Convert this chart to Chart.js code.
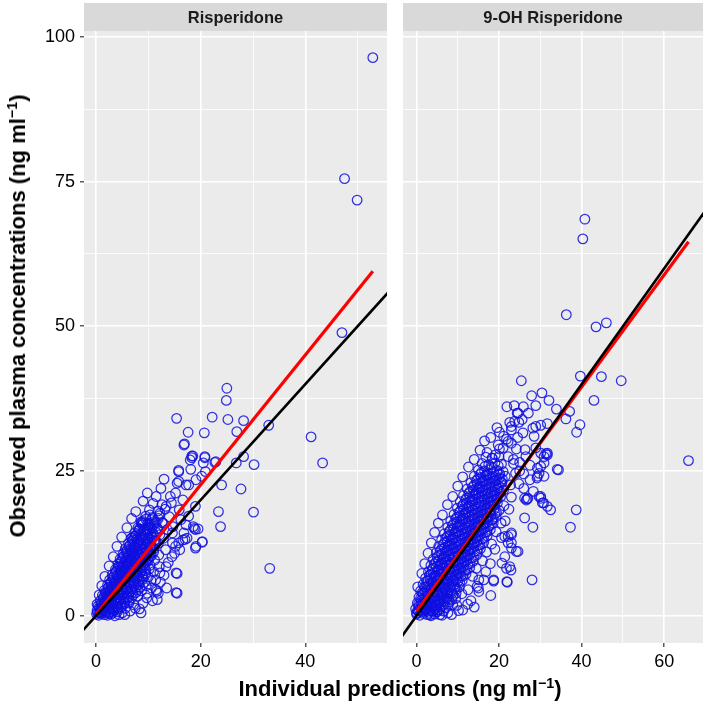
<!DOCTYPE html>
<html>
<head>
<meta charset="utf-8">
<script src="https://cdn.jsdelivr.net/npm/chart.js@4.4.1/dist/chart.umd.min.js"></script>
<style>
  body { margin: 0; background: #fff; width: 709px; height: 705px; position: relative; overflow: hidden;
         font-family: "Liberation Sans", Arial, sans-serif; }
  canvas { position: absolute; top: 0; }
  #ris-chart { left: 0; }
  #oh-chart { left: 397px; }
  .axis-title { position: absolute; font-weight: bold; font-size: 22px; line-height: 22px; color: #000; white-space: nowrap; }
  .axis-title sup { font-size: 65%; line-height: 0; vertical-align: 0; position: relative; top: -0.55em; }
  #x-title { left: 400px; top: 678px; transform: translateX(-50%); }
  #y-title { left: 18px; top: 316px; transform: translate(-50%, -50%) rotate(-90deg); }
</style>
</head>
<body>
<canvas id="ris-chart" width="393" height="705"></canvas>
<canvas id="oh-chart" width="312" height="705"></canvas>
<div id="x-title" class="axis-title">Individual predictions (ng ml<sup>−1</sup>)</div>
<div id="y-title" class="axis-title">Observed plasma concentrations (ng ml<sup>−1</sup>)</div>
<script>
// facet labels
const panelLabels = ["Risperidone", "9-OH Risperidone"];

// axis ticks (major ones get labels, minor ones only a thin grid line)
const yMajor = [0, 25, 50, 75, 100];
const yMinor = [12.5, 37.5, 62.5, 87.5];
const risXMajor = [0, 20, 40];
const risXMinor = [10, 30, 50];
const ohXMajor = [0, 20, 40, 60];
const ohXMinor = [10, 30, 50];

// axis limits as drawn (ggplot expansion included)
const yRange = [-4.7, 101.0];
const risXRange = [-2.3, 55.6];
const ohXRange = [-3.25, 69.4];

// y = x reference line, and the linear fits [pred, obs]
const identityLine = [[-10, -10], [120, 120]];
const risFit = [[0.05, 0.26], [52.9, 59.5]];
const ohFit = [[0.05, 0.8], [65.9, 64.6]];

// Risperidone: [individual prediction, observed]
const risOutliers = [
  [52.9,96.4],[47.5,75.5],[49.9,71.8],[47.0,48.9],[41.1,30.9],[43.3,26.4],[33.0,32.9],[33.2,8.2],
  [25.0,39.3],[24.9,37.2],[15.4,34.1],[22.2,34.3],[25.2,33.9],[28.2,33.7],[26.9,31.8],[20.7,31.6],
  [17.6,31.7],[16.8,29.5],[28.2,27.5],[26.8,26.4],[30.2,26.1],[24.0,22.6],[27.7,21.9],[23.4,18.0],
  [30.1,17.9],[23.8,15.4],[20.3,12.7],[19.0,11.7],[15.5,7.3],[15.5,3.9],[11.7,2.8],[11.6,4.2],
  [7.5,1.3],[19.5,15.0],[18.3,27.3],[18.0,26.9],[20.8,27.3],[22.9,26.6],[15.8,25.1],[18.1,25.3],
  [20.2,24.1],[15.5,22.9],[16.9,29.7],[18.5,27.6],[20.9,24.9],[17.2,22.6],[19.1,23.5],[11.5,20.6],
  [14.2,20.6],[16.6,20.0],[13.4,18.9],[15.9,18.3],[10.3,17.4],[12.2,17.7],[8.7,16.0],[7.2,13.7],
  [9.7,14.9],[12.8,16.0],[14.7,15.4],[17.2,15.7],[18.8,15.1],[20.3,12.8],[19.1,12.0],[16.6,13.1],
  [15.0,10.8],[13.4,8.5],[15.3,7.4],[12.2,7.4],[11.5,4.5],[11.9,3.9],[15.3,4.0],[9.7,3.1],
  [5.9,10.8],[4.7,8.5],[8.3,14.9],[6.8,13.4],[8.9,16.3],[15.8,24.9],[15.8,23.2],[17.7,22.6],
  [15.2,21.2],[18.3,27.6],[20.8,27.5],[22.7,26.5],[20.5,26.4],[19.0,18.9],[17.7,17.2],[18.6,15.4],
  [19.0,14.9],[16.8,14.3],[17.4,13.4],[15.8,12.6],[14.6,14.3]
];
const risCore = [
  [0.1,0.3],[0.5,0.1],[1.0,0.4],[1.6,0.2],[2.2,0.1],[2.9,0.3],[3.6,0.0],[4.4,0.2],
  [0.2,0.9],[0.7,0.7],[1.3,1.0],[1.9,0.8],[2.6,0.6],[3.3,0.9],[4.1,0.7],[5.0,0.5],
  [0.4,1.7],[1.0,1.5],[1.7,1.8],[2.4,1.6],[3.1,1.4],[3.9,1.7],[4.8,1.5],[5.6,1.3],
  [0.8,2.6],[1.5,2.4],[2.2,2.7],[2.9,2.5],[3.7,2.3],[4.5,2.6],[5.4,2.4],[6.3,2.2],
  [1.2,3.5],[1.9,3.3],[2.7,3.6],[3.4,3.4],[4.2,3.2],[5.0,3.5],[5.9,3.3],[6.8,3.1],[8.0,3.4],
  [1.6,4.4],[2.4,4.2],[3.2,4.5],[4.0,4.3],[4.8,4.1],[5.7,4.4],[6.6,4.2],[7.6,4.0],[8.7,4.3],
  [2.2,5.3],[3.0,5.1],[3.8,5.4],[4.6,5.2],[5.5,5.0],[6.4,5.3],[7.3,5.1],[8.4,4.9],[9.6,5.2],
  [2.6,6.2],[3.5,6.0],[4.4,6.3],[5.3,6.1],[6.2,5.9],[7.1,6.2],[8.1,6.0],[9.3,5.8],[10.5,6.1],
  [3.1,7.1],[4.0,6.9],[4.9,7.2],[5.8,7.0],[6.7,6.8],[7.7,7.1],[8.8,6.9],[10.0,6.7],
  [3.7,8.0],[4.6,7.8],[5.5,8.1],[6.5,7.9],[7.4,7.7],[8.4,8.0],[9.5,7.8],[11.0,7.6],
  [4.2,8.9],[5.1,8.7],[6.0,9.0],[7.0,8.8],[8.0,8.6],[9.1,8.9],[10.3,8.7],[12.1,8.5],
  [4.6,9.8],[5.6,9.6],[6.6,9.9],[7.6,9.7],[8.6,9.5],[9.8,9.8],[11.2,9.6],
  [5.2,10.7],[6.1,10.5],[7.1,10.8],[8.1,10.6],[9.2,10.4],[10.4,10.7],[12.0,10.5],
  [5.6,11.6],[6.6,11.4],[7.6,11.7],[8.7,11.5],[9.8,11.3],[11.1,11.6],[13.3,11.4],
  [6.2,12.5],[7.2,12.3],[8.2,12.6],[9.3,12.4],[10.5,12.2],[11.9,12.5],
  [6.8,13.4],[7.8,13.2],[8.9,13.5],[10.0,13.3],[11.3,13.1],[12.9,13.4],
  [7.4,14.3],[8.5,14.1],[9.6,14.4],[10.8,14.2],[12.2,14.0],
  [8.0,15.2],[9.2,15.0],[10.4,15.3],[11.7,15.1],[13.6,14.9],
  [8.6,16.2],[9.9,16.0],[11.2,16.3],[12.6,16.1],
  [9.5,17.2],[10.8,17.0],[12.1,17.3],[14.0,17.1],
  [10.2,18.3],[11.8,18.1],[13.2,18.4],
  [10.9,19.4],[12.6,19.2],[14.4,19.5]
];
const risCoreFill = [
  [0.7,1.2],[1.3,1.3],[2.0,1.1],[2.7,1.2],[3.5,1.0],[4.3,1.2],
  [1.1,2.1],[1.8,2.0],[2.5,2.2],[3.3,1.9],[4.1,2.1],[5.0,2.0],
  [1.5,3.0],[2.3,2.9],[3.0,3.1],[3.8,2.8],[4.6,3.0],[5.4,2.9],[6.3,2.7],
  [1.9,3.9],[2.7,3.8],[3.6,4.0],[4.4,3.7],[5.3,3.9],[6.2,3.8],[7.1,3.6],
  [2.3,4.8],[3.2,4.7],[4.1,4.9],[5.0,4.6],[5.9,4.8],[6.9,4.7],[7.9,4.5],
  [2.8,5.7],[3.6,5.6],[4.5,5.8],[5.4,5.5],[6.3,5.7],[7.2,5.6],[8.2,5.4],
  [3.2,6.6],[4.1,6.5],[5.0,6.7],[5.9,6.4],[6.8,6.6],[7.8,6.5],[8.9,6.3],
  [3.7,7.5],[4.6,7.4],[5.5,7.6],[6.4,7.3],[7.4,7.5],[8.4,7.4],[9.5,7.2],
  [4.2,8.4],[5.1,8.3],[6.0,8.5],[7.0,8.2],[8.0,8.4],[9.0,8.3],[10.2,8.1],
  [4.7,9.3],[5.6,9.2],[6.5,9.4],[7.5,9.1],[8.5,9.3],[9.6,9.2],
  [5.2,10.2],[6.1,10.1],[7.1,10.3],[8.1,10.0],[9.1,10.2],[10.2,10.1],
  [5.8,11.1],[6.7,11.0],[7.7,11.2],[8.7,10.9],[9.8,11.1],[11.0,11.0],
  [6.3,12.0],[7.3,11.9],[8.3,12.1],[9.3,11.8],[10.4,12.0],
  [6.9,12.9],[7.9,12.8],[8.9,13.0],[10.0,12.7],[11.1,12.9],
  [7.5,13.8],[8.5,13.7],[9.6,13.9],[10.7,13.6],
  [8.1,14.7],[9.2,14.6],[10.3,14.8],[11.4,14.5],
  [8.8,15.7],[10.0,15.6],[11.1,15.8],
  [9.5,16.7],[10.7,16.6],[11.9,16.8]
];
const risCoreInner = [
  [0.3,0.55],[0.8,0.5],[1.3,0.6],[1.9,0.5],[2.5,0.4],[3.2,0.6],
  [0.6,1.4],[1.2,1.3],[1.9,1.5],[2.6,1.4],[3.3,1.2],[4.1,1.4],
  [1.0,2.3],[1.7,2.2],[2.4,2.4],[3.1,2.3],[3.9,2.1],[4.7,2.3],[5.5,2.2],
  [1.4,3.2],[2.1,3.1],[2.9,3.3],[3.7,3.2],[4.5,3.0],[5.3,3.2],[6.1,3.1],
  [1.8,4.1],[2.6,4.0],[3.4,4.2],[4.2,4.1],[5.1,3.9],[6.0,4.1],[6.9,4.0],
  [2.4,5.0],[3.2,4.9],[4.0,5.1],[4.9,5.0],[5.8,4.8],[6.7,5.0],[7.6,4.9],
  [2.9,5.9],[3.7,5.8],[4.6,6.0],[5.5,5.9],[6.4,5.7],[7.3,5.9],[8.3,5.8],
  [3.4,6.8],[4.3,6.7],[5.2,6.9],[6.1,6.8],[7.0,6.6],[8.0,6.8],[9.0,6.7],
  [3.9,7.7],[4.8,7.6],[5.7,7.8],[6.7,7.7],[7.7,7.5],[8.7,7.7],
  [4.4,8.6],[5.3,8.5],[6.3,8.7],[7.3,8.6],[8.3,8.4],[9.3,8.6],
  [4.9,9.5],[5.9,9.4],[6.9,9.6],[7.9,9.5],[8.9,9.3],[10.0,9.5],
  [5.4,10.4],[6.4,10.3],[7.4,10.5],[8.4,10.4],[9.5,10.2],[10.6,10.4],
  [5.9,11.3],[6.9,11.2],[7.9,11.4],[9.0,11.3],[10.1,11.1],
  [6.5,12.2],[7.5,12.1],[8.5,12.3],[9.6,12.2],[10.7,12.0],
  [7.1,13.1],[8.1,13.0],[9.2,13.2],[10.3,13.1],[11.4,12.9],
  [7.7,14.0],[8.8,13.9],[9.9,14.1],[11.0,14.0],
  [8.3,15.0],[9.5,14.9],[10.7,15.1],[11.8,15.0],
  [9.0,16.0],[10.2,15.9],[11.5,16.1]
];
const risFringe = [
  [0.2,2.0],[0.6,3.6],[1.1,5.2],[1.7,6.8],[2.5,8.6],[3.3,10.2],[4.0,12.0],[4.9,13.6],[5.9,15.2],
  [6.8,16.8],[7.6,18.0],[9.0,19.8],[9.8,21.2],[12.4,22.0],[13.0,23.6],
  [5.5,0.2],[6.5,0.8],[7.2,1.9],[8.3,1.2],[9.0,2.2],[9.8,3.9],[10.6,4.8],[11.4,6.2],[12.3,5.8],
  [13.0,7.0],[13.8,9.2],[14.5,10.2],[15.2,12.0],[16.0,11.4],[17.0,13.2],[16.2,16.6],[14.6,12.6],
  [10.8,2.6],[13.5,4.8],[8.6,0.5]
];

// 9-OH Risperidone: [individual prediction, observed]
const ohOutliers = [
  [40.8,68.5],[40.3,65.1],[36.3,52.0],[43.5,49.9],[46.0,50.6],[39.7,41.4],[44.8,41.3],[49.6,40.6],
  [43.0,37.2],[25.4,40.6],[65.9,26.8],[38.7,18.3],[37.3,15.3],[32.5,18.3],[30.1,20.6],[30.8,19.5],
  [28.2,15.3],[26.2,16.9],[28.0,6.2],[21.9,5.9],[18.7,6.2],[34.4,25.2],[30.1,25.8],[29.3,24.1],
  [30.9,27.5],[31.7,27.8],[39.6,33.0],[38.8,31.7],[37.1,35.3],[36.2,34.0],[33.9,35.7],[32.1,37.2],
  [30.4,38.5],[27.9,38.0],[28.9,36.3],[25.9,36.1],[23.7,36.3],[21.9,36.1],[27.1,35.0],[24.6,35.0],
  [25.6,33.9],[23.8,33.6],[23.0,32.7],[22.6,33.4],[31.7,33.2],[30.1,32.9],[28.9,32.7],[28.2,32.4],
  [20.1,31.7],[21.1,31.0],[21.8,30.5],[17.1,28.2],[18.3,27.2],[20.1,28.8],[26.2,20.3],[26.8,20.2],
  [22.2,27.5],[24.2,28.8],[26.3,28.7],[31.3,28.0],[30.9,26.4],[29.3,25.5],[29.2,23.8],[29.7,20.6],
  [19.1,27.8],[22.2,30.1],[28.5,31.0],[24.8,33.4],[23.0,32.1],[24.4,35.0],[27.0,20.3],[30.1,20.3],
  [31.7,18.9],[30.5,19.5],[23.0,14.0],[24.2,11.1],[23.0,11.7],[21.4,10.2],[22.6,8.5],[20.7,9.1],
  [18.7,6.0],[22.0,5.8],[15.1,6.2],[15.1,4.2],[14.7,5.1],[16.3,6.2],[11.2,1.0],[8.8,1.9],
  [7.6,0.5],[5.7,0.2],[4.9,0.7],[0.1,0.5],[21.8,8.2],[22.9,7.9],[23.0,12.6],[22.2,13.7],
  [24.6,11.1],[3.3,0.2],[15.0,4.8],[28.9,29.0],[30.1,28.1],[29.7,24.6],[30.9,24.1],[31.7,28.1],
  [34.1,25.3],[23.0,14.3],[21.4,13.7],[22.2,12.6],[26.6,20.0]
];
const ohCore = [
  [0.0,0.3],[0.8,0.1],[1.7,0.4],[2.6,0.2],[3.5,0.0],[4.4,0.3],[6.2,0.1],
  [-0.2,1.2],[0.7,1.0],[1.6,1.3],[2.5,1.1],[3.5,0.9],[4.5,1.2],[5.6,1.0],[6.6,0.8],
  [0.2,2.2],[1.2,2.0],[2.2,2.3],[3.2,2.1],[4.3,1.9],[5.4,2.2],[6.5,2.0],[7.7,1.8],
  [0.6,3.2],[1.7,3.0],[2.8,3.3],[3.9,3.1],[5.0,2.9],[6.1,3.2],[7.3,3.0],[8.6,2.8],
  [1.0,4.3],[2.2,4.1],[3.4,4.4],[4.6,4.2],[5.8,4.0],[7.0,4.3],[8.3,4.1],[9.6,3.9],
  [1.6,5.4],[2.8,5.2],[4.0,5.5],[5.2,5.3],[6.4,5.1],[7.7,5.4],[9.0,5.2],[10.4,5.0],
  [2.2,6.5],[3.4,6.3],[4.6,6.6],[5.9,6.4],[7.1,6.2],[8.4,6.5],[9.7,6.3],[11.1,6.1],
  [2.9,7.6],[4.1,7.4],[5.3,7.7],[6.6,7.5],[7.9,7.3],[9.2,7.6],[10.5,7.4],[12.0,7.2],
  [3.5,8.7],[4.8,8.5],[6.1,8.8],[7.4,8.6],[8.7,8.4],[10.0,8.7],[11.4,8.5],[12.9,8.3],
  [4.1,9.8],[5.4,9.6],[6.7,9.9],[8.1,9.7],[9.4,9.5],[10.8,9.8],[12.2,9.6],[13.7,9.4],
  [4.8,10.9],[6.1,10.7],[7.5,11.0],[8.8,10.8],[10.2,10.6],[11.6,10.9],[13.0,10.7],[14.6,10.5],
  [5.4,12.0],[6.8,11.8],[8.2,12.1],[9.6,11.9],[11.0,11.7],[12.4,12.0],[13.9,11.8],[15.5,11.6],
  [6.1,13.1],[7.5,12.9],[8.9,13.2],[10.3,13.0],[11.8,12.8],[13.2,13.1],[14.7,12.9],[16.3,12.7],
  [6.8,14.2],[8.2,14.0],[9.7,14.3],[11.1,14.1],[12.6,13.9],[14.0,14.2],[15.5,14.0],[17.1,13.8],
  [7.6,15.3],[9.0,15.1],[10.5,15.4],[11.9,15.2],[13.4,15.0],[14.9,15.3],[16.4,15.1],[17.9,14.9],
  [8.3,16.4],[9.8,16.2],[11.3,16.5],[12.7,16.3],[14.2,16.1],[15.7,16.4],[17.2,16.2],[18.6,16.0],
  [9.1,17.5],[10.6,17.3],[12.0,17.6],[13.5,17.4],[15.0,17.2],[16.5,17.5],[18.0,17.3],[19.3,17.1],
  [9.9,18.6],[11.4,18.4],[12.8,18.7],[14.3,18.5],[15.8,18.3],[17.3,18.6],[18.8,18.4],[20.0,18.2],
  [10.6,19.7],[12.1,19.5],[13.6,19.8],[15.1,19.6],[16.6,19.4],[18.1,19.7],[19.6,19.5],
  [11.4,20.8],[12.9,20.6],[14.4,20.9],[15.9,20.7],[17.4,20.5],[18.9,20.8],[20.4,20.6],
  [12.3,21.9],[13.8,21.7],[15.3,22.0],[16.8,21.8],[18.3,21.6],[19.8,21.9],[21.1,21.7],
  [13.2,23.0],[14.7,22.8],[16.2,23.1],[17.7,22.9],[19.2,22.7],[20.7,23.0],
  [14.0,24.1],[15.6,23.9],[17.1,24.2],[18.6,24.0],[20.1,23.8],[21.5,24.1],
  [15.0,25.2],[16.5,25.0],[18.0,25.3],[19.5,25.1],[21.0,24.9],
  [15.9,26.3],[17.5,26.1],[19.0,26.4],[20.6,26.2],
  [16.8,27.4],[18.4,27.2],[20.0,27.5]
];
const ohCoreFill = [
  [0.4,0.8],[1.3,0.7],[2.2,0.9],[3.1,0.6],[4.0,0.8],[5.0,0.7],
  [0.7,1.7],[1.7,1.6],[2.7,1.8],[3.8,1.5],[4.9,1.7],[6.0,1.6],[7.1,1.4],
  [1.2,2.7],[2.3,2.6],[3.4,2.8],[4.5,2.5],[5.6,2.7],[6.8,2.6],[8.0,2.4],
  [1.6,3.8],[2.8,3.7],[4.0,3.9],[5.2,3.6],[6.4,3.8],[7.6,3.7],[8.9,3.5],
  [2.2,4.9],[3.4,4.8],[4.6,5.0],[5.8,4.7],[7.0,4.9],[8.3,4.8],[9.7,4.6],
  [2.8,6.0],[4.0,5.9],[5.3,6.1],[6.5,5.8],[7.8,6.0],[9.1,5.9],[10.5,5.7],
  [3.5,7.1],[4.7,7.0],[6.0,7.2],[7.2,6.9],[8.5,7.1],[9.8,7.0],[11.2,6.8],
  [4.1,8.2],[5.4,8.1],[6.7,8.3],[8.0,8.0],[9.3,8.2],[10.7,8.1],[12.1,7.9],
  [4.8,9.3],[6.1,9.2],[7.4,9.4],[8.8,9.1],[10.1,9.3],[11.5,9.2],[13.0,9.0],
  [5.4,10.4],[6.8,10.3],[8.1,10.5],[9.5,10.2],[10.9,10.4],[12.3,10.3],[13.8,10.1],
  [6.1,11.5],[7.5,11.4],[8.9,11.6],[10.3,11.3],[11.7,11.5],[13.1,11.4],[14.7,11.2],
  [6.8,12.6],[8.2,12.5],[9.6,12.7],[11.0,12.4],[12.5,12.6],[13.9,12.5],[15.4,12.3],
  [7.5,13.7],[8.9,13.6],[10.4,13.8],[11.8,13.5],[13.3,13.7],[14.8,13.6],[16.3,13.4],
  [8.2,14.8],[9.7,14.7],[11.2,14.9],[12.6,14.6],[14.1,14.8],[15.6,14.7],[17.1,14.5],
  [9.0,15.9],[10.5,15.8],[12.0,16.0],[13.4,15.7],[14.9,15.9],[16.4,15.8],[17.9,15.6],
  [9.8,17.0],[11.3,16.9],[12.8,17.1],[14.2,16.8],[15.7,17.0],[17.2,16.9],[18.6,16.7],
  [10.6,18.1],[12.1,18.0],[13.6,18.2],[15.0,17.9],[16.5,18.1],[18.0,18.0],[19.4,17.8],
  [11.3,19.2],[12.8,19.1],[14.3,19.3],[15.8,19.0],[17.3,19.2],[18.8,19.1],
  [12.1,20.3],[13.6,20.2],[15.1,20.4],[16.6,20.1],[18.1,20.3],[19.6,20.2],
  [12.9,21.4],[14.4,21.3],[15.9,21.5],[17.4,21.2],[18.9,21.4],[20.4,21.3],
  [13.9,22.5],[15.4,22.4],[16.9,22.6],[18.4,22.3],[19.9,22.5],
  [14.8,23.6],[16.3,23.5],[17.8,23.7],[19.3,23.4],[20.8,23.6],
  [15.7,24.7],[17.2,24.6],[18.7,24.8],[20.2,24.5],
  [16.6,25.8],[18.2,25.7],[19.8,25.9]
];
const ohCoreInner = [
  [0.3,1.0],[1.2,0.9],[2.1,1.1],[3.0,1.0],[4.0,0.8],[5.0,1.0],
  [0.5,2.0],[1.5,1.9],[2.5,2.1],[3.6,2.0],[4.7,1.8],[5.8,2.0],
  [1.0,3.0],[2.1,2.9],[3.2,3.1],[4.3,3.0],[5.4,2.8],[6.6,3.0],[7.8,2.9],
  [1.4,4.0],[2.6,3.9],[3.8,4.1],[5.0,4.0],[6.2,3.8],[7.4,4.0],[8.6,3.9],
  [1.9,5.0],[3.1,4.9],[4.3,5.1],[5.5,5.0],[6.7,4.8],[8.0,5.0],[9.3,4.9],
  [2.5,6.0],[3.7,5.9],[4.9,6.1],[6.2,6.0],[7.4,5.8],[8.7,6.0],[10.0,5.9],
  [3.1,7.0],[4.4,6.9],[5.6,7.1],[6.9,7.0],[8.2,6.8],[9.5,7.0],[10.8,6.9],
  [3.8,8.0],[5.1,7.9],[6.4,8.1],[7.7,8.0],[9.0,7.8],[10.3,8.0],[11.7,7.9],
  [4.4,9.0],[5.7,8.9],[7.0,9.1],[8.4,9.0],[9.7,8.8],[11.1,9.0],[12.5,8.9],
  [5.0,10.1],[6.4,10.0],[7.8,10.2],[9.1,10.1],[10.5,9.9],[11.9,10.1],[13.3,10.0],
  [5.7,11.2],[7.1,11.1],[8.5,11.3],[9.9,11.2],[11.3,11.0],[12.7,11.2],[14.1,11.1],
  [6.4,12.3],[7.8,12.2],[9.2,12.4],[10.7,12.3],[12.1,12.1],[13.5,12.3],[15.0,12.2],
  [7.1,13.4],[8.6,13.3],[10.0,13.5],[11.5,13.4],[12.9,13.2],[14.4,13.4],[15.9,13.3],
  [7.9,14.5],[9.4,14.4],[10.8,14.6],[12.3,14.5],[13.8,14.3],[15.2,14.5],[16.7,14.4],
  [8.7,15.6],[10.2,15.5],[11.7,15.7],[13.1,15.6],[14.6,15.4],[16.1,15.6],[17.5,15.5],
  [9.5,16.7],[11.0,16.6],[12.5,16.8],[14.0,16.7],[15.4,16.5],[16.9,16.7],[18.3,16.6],
  [10.3,17.8],[11.8,17.7],[13.3,17.9],[14.8,17.8],[16.3,17.6],[17.7,17.8],[19.1,17.7],
  [11.1,18.9],[12.6,18.8],[14.1,19.0],[15.6,18.9],[17.1,18.7],[18.5,18.9],
  [11.9,20.0],[13.4,19.9],[14.9,20.1],[16.4,20.0],[17.9,19.8],[19.3,20.0],
  [12.7,21.1],[14.2,21.0],[15.7,21.2],[17.2,21.1],[18.7,20.9],[20.1,21.1],
  [13.6,22.2],[15.1,22.1],[16.6,22.3],[18.1,22.2],[19.6,22.0],
  [14.5,23.3],[16.0,23.2],[17.5,23.4],[19.0,23.3],[20.4,23.1],
  [15.4,24.4],[16.9,24.3],[18.4,24.5],[19.9,24.4]
];
const ohFringe = [
  [0.3,5.0],[1.3,7.3],[2.0,9.0],[2.8,10.8],[3.6,12.6],[4.4,14.4],[5.3,16.0],[6.3,17.4],[7.5,19.2],
  [8.8,20.6],[10.0,22.4],[11.2,24.0],[12.6,25.7],[14.0,27.0],[15.4,28.6],[16.5,30.2],[18.0,30.8],
  [19.5,32.5],
  [9.5,3.0],[11.0,3.8],[12.5,4.5],[13.6,6.8],[14.5,8.2],[16.0,9.5],[17.0,11.0],[18.2,12.4],
  [19.3,14.5],[20.5,16.0],[16.8,7.6],[13.2,2.6],[10.2,0.9],[12.4,2.0],[17.9,9.0],[19.0,11.5],
  [20.6,13.5],[21.5,16.4],[22.4,18.4],[21.2,19.0],[23.0,20.5],[22.8,22.6],[24.0,24.6],[23.5,26.3],
  [25.0,25.0],[14.0,1.5],[18.0,3.5],[8.5,0.2],[9.8,1.8],
  [19.8,29.5],[21.0,29.0],[23.0,29.8],[24.5,30.8],[25.8,31.6],[23.5,27.0],[25.0,26.5],[26.5,27.5],
  [27.5,26.0],[26.0,24.5],[24.8,22.8],[26.0,22.0],[27.5,23.5],[28.3,21.5]
];

const FONT = "'Liberation Sans', Arial, sans-serif";
const PANEL_BG = "#ebebeb";
const STRIP_BG = "#d9d9d9";
const POINT_COLOR = "rgba(15, 15, 225, 0.85)";

function toXY(pairs) {
  return pairs.map(([x, y]) => ({ x, y }));
}

// grey panel + facet strip, drawn under the grid
const facetPanel = {
  id: "facetPanel",
  beforeDraw(chart, args, opts) {
    const { ctx, chartArea } = chart;
    const stripTop = 3;
    ctx.save();
    ctx.fillStyle = PANEL_BG;
    ctx.fillRect(chartArea.left, chartArea.top, chartArea.width, chartArea.height);
    ctx.fillStyle = STRIP_BG;
    ctx.fillRect(chartArea.left, stripTop, chartArea.width, chartArea.top - stripTop);
    ctx.fillStyle = "#1a1a1a";
    ctx.font = "bold 16.5px " + FONT;
    ctx.textAlign = "center";
    ctx.textBaseline = "middle";
    ctx.fillText(opts.label, (chartArea.left + chartArea.right) / 2, (stripTop + chartArea.top) / 2 + 1);
    ctx.restore();
  },
};

function tickScale(major, minor, range, showLabels, fitSize, isY) {
  const isMajor = (v) => major.includes(v);
  return {
    type: "linear",
    min: range[0],
    max: range[1],
    border: { display: false },
    afterBuildTicks: (scale) => {
      scale.ticks = [...major, ...minor].sort((a, b) => a - b).map((value) => ({ value }));
    },
    afterFit: (scale) => {
      if (isY) {
        scale.width = fitSize;
      } else {
        scale.height = fitSize;
      }
    },
    grid: {
      color: "#ffffff",
      lineWidth: (ctx) => (ctx.tick && isMajor(ctx.tick.value) ? 1.6 : 0.8),
      drawTicks: showLabels,
      tickLength: 4,
      tickWidth: 1.2,
      tickColor: (ctx) => (ctx.tick && isMajor(ctx.tick.value) ? "#333333" : "rgba(0,0,0,0)"),
    },
    ticks: {
      display: showLabels,
      autoSkip: false,
      maxRotation: 0,
      padding: isY ? 5 : 4,
      color: "#000000",
      font: { family: FONT, size: 18 },
      callback: (value) => (isMajor(value) ? String(value) : ""),
    },
  };
}

function buildPanel(canvas, label, points, fit, xMajor, xMinor, xRange, showY, padding) {
  return new Chart(canvas.getContext("2d"), {
    type: "scatter",
    data: {
      datasets: [
        {
          data: toXY(identityLine),
          showLine: true,
          borderColor: "#000000",
          borderWidth: 2.6,
          pointRadius: 0,
          clip: 0,
          order: 0,
        },
        {
          data: toXY(fit),
          showLine: true,
          borderColor: "#ff0000",
          borderWidth: 3.2,
          pointRadius: 0,
          clip: 0,
          order: 1,
        },
        {
          data: toXY(points),
          pointStyle: "circle",
          pointRadius: 4.8,
          borderWidth: 1.25,
          borderColor: POINT_COLOR,
          backgroundColor: "rgba(0,0,0,0)",
          clip: 0,
          order: 2,
        },
      ],
    },
    options: {
      responsive: false,
      animation: false,
      events: [],
      layout: { padding },
      plugins: {
        legend: { display: false },
        tooltip: { enabled: false },
        facetPanel: { label },
      },
      scales: {
        x: tickScale(xMajor, xMinor, xRange, true, 62, false),
        y: tickScale(yMajor, yMinor, yRange, showY, showY ? 84 : 0, true),
      },
    },
    plugins: [facetPanel],
  });
}

document.addEventListener("DOMContentLoaded", () => {
  buildPanel(
    document.getElementById("ris-chart"),
    panelLabels[0],
    [...risCore, ...risCoreFill, ...risCoreInner, ...risFringe, ...risOutliers],
    risFit, risXMajor, risXMinor, risXRange, true,
    { top: 31, right: 2, bottom: 0, left: 0 }
  );
  buildPanel(
    document.getElementById("oh-chart"),
    panelLabels[1],
    [...ohCore, ...ohCoreFill, ...ohCoreInner, ...ohFringe, ...ohOutliers],
    ohFit, ohXMajor, ohXMinor, ohXRange, false,
    { top: 31, right: 3, bottom: 0, left: 2 }
  );
});
</script>
</body>
</html>
